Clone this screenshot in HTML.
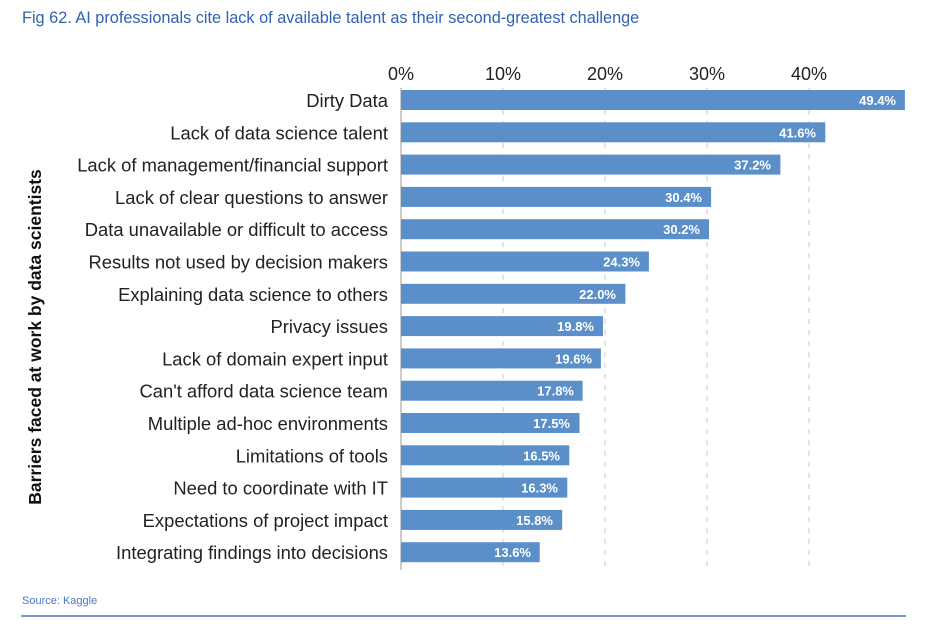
<!DOCTYPE html>
<html><head><style>
body{margin:0;background:#fff;width:942px;height:627px;overflow:hidden;font-family:"Liberation Sans",sans-serif;}
</style></head><body>
<svg width="942" height="627" xmlns="http://www.w3.org/2000/svg" font-family="Liberation Sans, sans-serif">
<text x="22" y="23" font-size="16.3" fill="#2f62b0">Fig 62. AI professionals cite lack of available talent as their second-greatest challenge</text>
<g stroke="#c8c8c8" stroke-dasharray="5,6" stroke-width="1">
<line x1="503" y1="88" x2="503" y2="570"/>
<line x1="605" y1="88" x2="605" y2="570"/>
<line x1="707" y1="88" x2="707" y2="570"/>
<line x1="809" y1="88" x2="809" y2="570"/>
</g>
<line x1="401" y1="88" x2="401" y2="570" stroke="#999" stroke-width="1"/>
<g font-size="18" fill="#222" text-anchor="middle">
<text x="401" y="80">0%</text><text x="503" y="80">10%</text><text x="605" y="80">20%</text><text x="707" y="80">30%</text><text x="809" y="80">40%</text>
</g>
<text transform="translate(41,337) rotate(-90)" font-size="17.5" font-weight="bold" text-anchor="middle" fill="#111">Barriers faced at work by data scientists</text>
<g font-size="18.4" fill="#222" text-anchor="end">
<text x="388" y="107">Dirty Data</text>
<text x="388" y="139.3">Lack of data science talent</text>
<text x="388" y="171.6">Lack of management/financial support</text>
<text x="388" y="203.9">Lack of clear questions to answer</text>
<text x="388" y="236.2">Data unavailable or difficult to access</text>
<text x="388" y="268.5">Results not used by decision makers</text>
<text x="388" y="300.8">Explaining data science to others</text>
<text x="388" y="333.1">Privacy issues</text>
<text x="388" y="365.4">Lack of domain expert input</text>
<text x="388" y="397.7">Can&#39;t afford data science team</text>
<text x="388" y="430">Multiple ad-hoc environments</text>
<text x="388" y="462.3">Limitations of tools</text>
<text x="388" y="494.6">Need to coordinate with IT</text>
<text x="388" y="526.9">Expectations of project impact</text>
<text x="388" y="559.2">Integrating findings into decisions</text>
</g>
<g fill="#5b8fca">
<rect x="401" y="90" width="503.9" height="20"/>
<rect x="401" y="122.3" width="424.3" height="20"/>
<rect x="401" y="154.6" width="379.4" height="20"/>
<rect x="401" y="186.9" width="310.1" height="20"/>
<rect x="401" y="219.2" width="308" height="20"/>
<rect x="401" y="251.5" width="247.9" height="20"/>
<rect x="401" y="283.8" width="224.4" height="20"/>
<rect x="401" y="316.1" width="202" height="20"/>
<rect x="401" y="348.4" width="199.9" height="20"/>
<rect x="401" y="380.7" width="181.6" height="20"/>
<rect x="401" y="413" width="178.5" height="20"/>
<rect x="401" y="445.3" width="168.3" height="20"/>
<rect x="401" y="477.6" width="166.3" height="20"/>
<rect x="401" y="509.9" width="161.2" height="20"/>
<rect x="401" y="542.2" width="138.7" height="20"/>
</g>
<g font-size="13" font-weight="bold" fill="#fff" text-anchor="end">
<text x="896" y="105">49.4%</text>
<text x="816" y="137.3">41.6%</text>
<text x="771" y="169.6">37.2%</text>
<text x="702" y="201.9">30.4%</text>
<text x="700" y="234.2">30.2%</text>
<text x="640" y="266.5">24.3%</text>
<text x="616" y="298.8">22.0%</text>
<text x="594" y="331.1">19.8%</text>
<text x="592" y="363.4">19.6%</text>
<text x="574" y="395.7">17.8%</text>
<text x="570" y="428">17.5%</text>
<text x="560" y="460.3">16.5%</text>
<text x="558" y="492.6">16.3%</text>
<text x="553" y="524.9">15.8%</text>
<text x="531" y="557.2">13.6%</text>
</g>
<text x="22" y="604" font-size="11" fill="#4a78c0">Source: Kaggle</text>
<line x1="21" y1="616" x2="906" y2="616" stroke="#4a72b8" stroke-width="1.5"/>
</svg>
</body></html>
